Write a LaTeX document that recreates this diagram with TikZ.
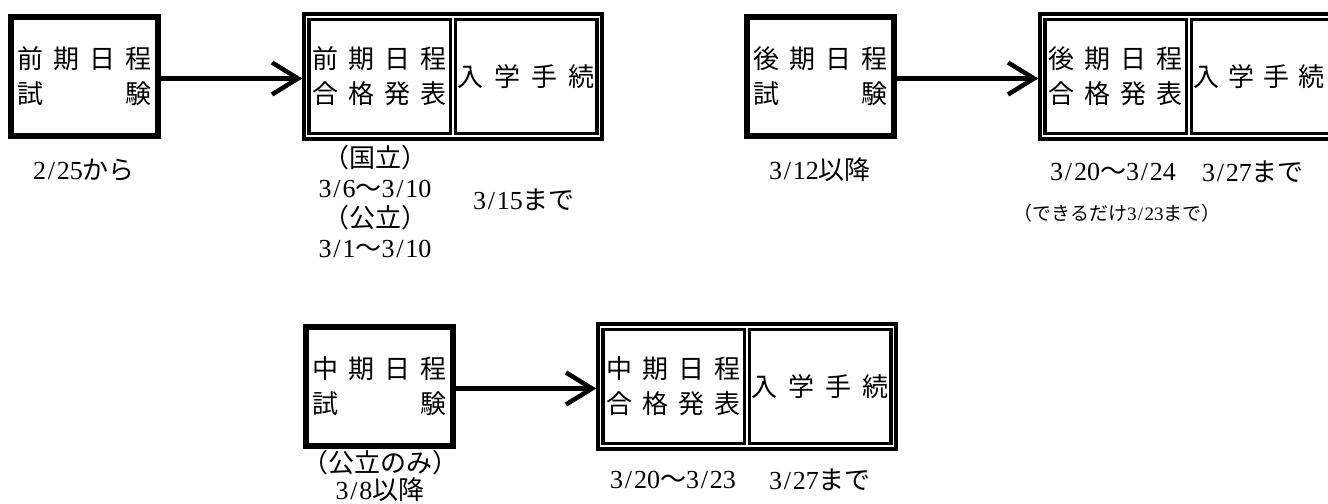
\documentclass[tikz,border=0pt]{standalone}
\usepackage{fontspec}
\setmainfont{Liberation Serif}
\newfontfamily\cjk{Noto Sans CJK JP}
\usetikzlibrary{arrows.meta}
\newcommand\J[1]{{\cjk #1}}
\newcommand\Sl{\makebox[0.42em]{/}}
\newcommand\boxfont{\cjk\fontsize{26bp}{35bp}\selectfont}
\newcommand\lblfont{\fontsize{26bp}{30bp}\selectfont}
\newcommand\smallfont{\fontsize{19bp}{22bp}\selectfont}
\tikzset{
  thickbox/.style={draw, line width=6bp, minimum width=147bp, minimum height=119bp, inner sep=0pt, align=center, font=\boxfont},
  outerbox/.style={draw, line width=3.4bp, minimum width=298bp, minimum height=125bp, inner sep=0pt},
  cellbox/.style={draw, line width=3.4bp, minimum width=141.5bp, minimum height=114bp, inner sep=0pt, align=center, font=\boxfont},
  lbl/.style={inner sep=0pt, align=center, font=\lblfont},
  flow/.style={line width=4.5bp, -{Straight Barb[length=26bp,width=32bp]}}
}
\newcommand\twoline[2]{\makebox[134bp]{#1}\\\makebox[134bp]{#2}}
\begin{document}
\begin{tikzpicture}[x=1bp,y=-1bp]
\useasboundingbox (0,0) rectangle (1328,504);
\clip (0,0) rectangle (1328,504);
% row 1 left
\node[thickbox] (A) at (84.5,76.5) {\twoline{前\hfill 期\hfill 日\hfill 程}{試\hfill 験}};
\node[outerbox] (D) at (453,76.5) {};
\node[cellbox] (D1) at (379.75,76.5) {\twoline{前\hfill 期\hfill 日\hfill 程}{合\hfill 格\hfill 発\hfill 表}};
\node[cellbox] (D2) at (526.25,76.5) {\makebox[137bp]{入\hfill 学\hfill 手\hfill 続}};
\draw[flow] ([yshift=-2bp]A.east) -- ([yshift=-2bp]D.west);
% row 1 right
\node[thickbox] (B) at (820.5,76.5) {\twoline{後\hfill 期\hfill 日\hfill 程}{試\hfill 験}};
\node[outerbox] (E) at (1189,76.5) {};
\node[cellbox] (E1) at (1115.75,76.5) {\twoline{後\hfill 期\hfill 日\hfill 程}{合\hfill 格\hfill 発\hfill 表}};
\node[cellbox] (E2) at (1262.25,76.5) {\hspace*{-6bp}\makebox[131bp]{入\hfill 学\hfill 手\hfill 続}};
\draw[flow] ([yshift=-2bp]B.east) -- ([yshift=-2bp]E.west);
% row 2
\node[thickbox] (C) at (379.5,386.5) {\twoline{中\hfill 期\hfill 日\hfill 程}{試\hfill 験}};
\node[outerbox] (F) at (747,386.5) {};
\node[cellbox] (F1) at (673.75,386.5) {\twoline{中\hfill 期\hfill 日\hfill 程}{合\hfill 格\hfill 発\hfill 表}};
\node[cellbox] (F2) at (820.25,386.5) {\makebox[137bp]{入\hfill 学\hfill 手\hfill 続}};
\draw[flow] ([yshift=-2bp]C.east) -- ([yshift=-2bp]F.west);
% labels
\node[lbl] (l1) at (84,170) {2\Sl 25\J{から}};
\node[lbl] (l2) at (375,201.5) {\J{（国立）}\\3\Sl 6\J{～}3\Sl 10\\\J{（公立）}\\3\Sl 1\J{～}3\Sl 10};
\node[lbl] (l3) at (524,200) {3\Sl 15\J{まで}};
\node[lbl] (l4) at (820,170) {3\Sl 12\J{以降}};
\node[lbl] (l5) at (1113,172) {3\Sl 20\J{～}3\Sl 24};
\node[lbl] (l6) at (1253,172) {3\Sl 27\J{まで}};
\node[lbl, font=\smallfont] (l7) at (1117,213) {\J{（できるだけ}3\Sl 23\J{まで）}};
\node[lbl] (l8) at (380,463) {\J{（公立のみ）}};
\node[lbl] (l9) at (380,490) {3\Sl 8\J{以降}};
\node[lbl] (l10) at (673,480) {3\Sl 20\J{～}3\Sl 23};
\node[lbl] (l11) at (820,480) {3\Sl 27\J{まで}};
\end{tikzpicture}
\end{document}
